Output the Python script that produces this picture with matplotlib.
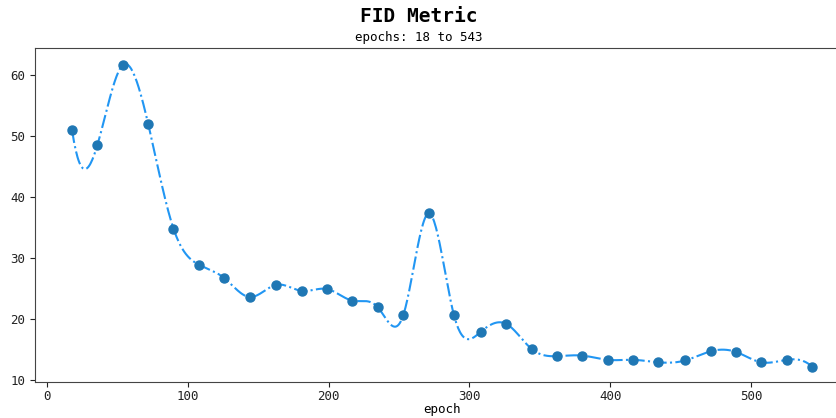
import numpy as np
import matplotlib
matplotlib.use("Agg")
import matplotlib.pyplot as plt

epochs = [18, 36, 54, 72, 90, 108, 126, 144, 163, 181, 199, 217, 235, 253, 271,
          289, 308, 326, 344, 362, 380, 398, 416, 434, 453, 471, 489, 507, 525, 543]
fid = [51.0, 48.5, 61.6, 52.0, 34.8, 28.9, 26.7, 23.6, 25.6, 24.6, 24.9, 23.0, 21.9, 20.6, 37.3,
       20.6, 17.9, 19.2, 15.1, 13.9, 14.0, 13.3, 13.3, 12.9, 13.2, 14.7, 14.6, 12.9, 13.3, 12.2]

title = "FID Metric"
subtitle = "epochs: 18 to 543"
xlabel = "epoch"


def not_a_knot_spline(x, y, xs):
    x = np.asarray(x, float)
    y = np.asarray(y, float)
    n = len(x)
    h = np.diff(x)
    A = np.zeros((n, n))
    b = np.zeros(n)
    for i in range(1, n - 1):
        A[i, i - 1] = h[i - 1]
        A[i, i] = 2 * (h[i - 1] + h[i])
        A[i, i + 1] = h[i]
        b[i] = 6 * ((y[i + 1] - y[i]) / h[i] - (y[i] - y[i - 1]) / h[i - 1])
    A[0, 0] = h[1]
    A[0, 1] = -(h[0] + h[1])
    A[0, 2] = h[0]
    A[-1, -3] = h[-1]
    A[-1, -2] = -(h[-2] + h[-1])
    A[-1, -1] = h[-2]
    M = np.linalg.solve(A, b)
    idx = np.clip(np.searchsorted(x, xs) - 1, 0, n - 2)
    x0, x1 = x[idx], x[idx + 1]
    hh = x1 - x0
    t0 = x1 - xs
    t1 = xs - x0
    ys = (M[idx] * t0 ** 3 / (6 * hh) + M[idx + 1] * t1 ** 3 / (6 * hh)
          + (y[idx] / hh - M[idx] * hh / 6) * t0
          + (y[idx + 1] / hh - M[idx + 1] * hh / 6) * t1)
    return ys


plt.rcParams['font.family'] = ['DejaVu Sans Mono']

fig = plt.figure(figsize=(8.37, 4.18), dpi=100)
ax = fig.add_axes([35 / 837, 1 - 382 / 418, 814 / 837, (382 - 48) / 418])

xs = np.linspace(epochs[0], epochs[-1], 800)
ys = not_a_knot_spline(epochs, fid, xs)
ax.plot(xs, ys, linestyle='-.', color='#2196F3', linewidth=1.5, zorder=2)
ax.plot(epochs, fid, 'o', color='#1f77b4', markersize=6.5, zorder=3)

ax.set_xlim(-8.25, 569.25)
ax.set_ylim(9.67, 64.4)
ax.set_xticks([0, 100, 200, 300, 400, 500])
ax.set_yticks([10, 20, 30, 40, 50, 60])
ax.tick_params(labelsize=9, colors='#222222')
ax.tick_params(axis='x', pad=2.5)
for s in ax.spines.values():
    s.set_color('#444444')
ax.set_xlabel(xlabel, fontsize=9, labelpad=0)

fig.text(0.5, 1 - 17 / 418, title, ha='center', va='center', fontsize=14, fontweight='bold')
fig.text(0.5, 1 - 38 / 418, subtitle, ha='center', va='center', fontsize=9)

fig.savefig('out.png', dpi=100)
